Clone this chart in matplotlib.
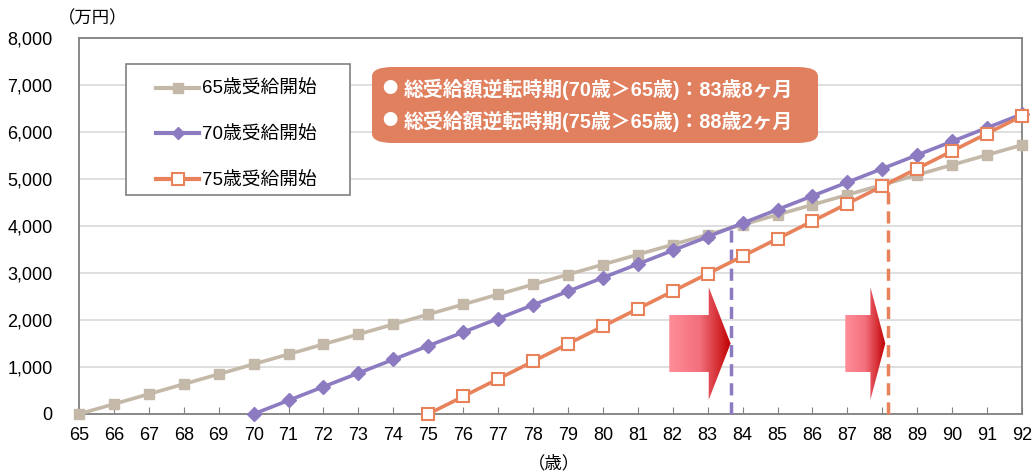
import numpy as np
import matplotlib
matplotlib.use("Agg")
import matplotlib.pyplot as plt
from matplotlib.patches import Polygon, Rectangle, FancyBboxPatch
from matplotlib.lines import Line2D
from matplotlib.colors import LinearSegmentedColormap

plt.rcParams['font.family'] = ['Liberation Sans', 'Noto Sans CJK JP']

# cumulative pension received (万円) by age
ages = list(range(65, 93))
start65 = [0, 212, 424, 636, 848, 1060, 1272, 1484, 1696, 1908, 2120, 2332, 2544, 2756,
           2968, 3180, 3392, 3604, 3816, 4028, 4240, 4452, 4664, 4876, 5088, 5300, 5512, 5724]
ages70 = list(range(70, 93))
start70 = [0, 290, 580, 870, 1160, 1450, 1740, 2030, 2320, 2610, 2900, 3190, 3480, 3770,
           4060, 4350, 4640, 4930, 5220, 5510, 5800, 6090, 6380]
ages75 = list(range(75, 93))
start75 = [0, 373, 746, 1119, 1492, 1865, 2238, 2611, 2984, 3357, 3730, 4103, 4476,
           4849, 5222, 5595, 5968, 6341]

series_labels = ['65歳受給開始', '70歳受給開始', '75歳受給開始']
# break-even ages: 83歳8ヶ月, 88歳2ヶ月
cross70 = 83 + 8 / 12
cross75 = 88 + 2 / 12
notes = ['総受給額逆転時期(70歳＞65歳)：83歳8ヶ月',
         '総受給額逆転時期(75歳＞65歳)：88歳2ヶ月']

c65 = '#C4B8A9'
c70 = '#8D7BC2'
c75 = '#E8825A'
gray = '#808080'

fig = plt.figure(figsize=(10.35, 4.75), dpi=100)
ax = fig.add_axes([79 / 1035, 61 / 475, 943 / 1035, 376 / 475])

ax.set_xlim(65, 92)
ax.set_ylim(0, 8000)
ax.set_xticks(ages)
ax.set_yticks(range(0, 8001, 1000))
ax.set_yticklabels([f'{v:,}' for v in range(0, 8001, 1000)])
ax.grid(axis='y', color='#D9D9D9', lw=1.2, zorder=0)
ax.set_axisbelow(True)
for s in ax.spines.values():
    s.set_color(gray)
    s.set_linewidth(1.3)
ax.tick_params(axis='x', direction='in', length=5, color=gray, pad=9, labelsize=13)
ax.tick_params(axis='y', length=0, pad=19, labelsize=13)

ax.plot(ages, start65, color=c65, lw=2.6, marker='s', ms=7.5, zorder=4, clip_on=False)
ax.plot(ages70, start70, color=c70, lw=2.6, marker='D', ms=7, zorder=5, clip_on=False)
ax.plot(ages75, start75, color=c75, lw=2.6, marker='s', ms=8, mfc='white',
        mec=c75, mew=1.5, zorder=6, clip_on=False)

# dashed lines at the break-even ages
for xc, col in [(cross70, c70), (cross75, c75)]:
    top = np.interp(xc, ages, start65)
    ax.plot([xc, xc], [0, top], color=col, lw=2.5, ls=(0, (3.5, 2)), zorder=3, clip_on=False)

# gradient block arrows pointing at the break-even ages
cmap = LinearSegmentedColormap.from_list('arrow', ['#FF8E99', '#F26F7C', '#C00000'])
grad = np.linspace(0, 1, 256).reshape(1, -1)


def block_arrow(x0, x1, xtip):
    verts = [(x0, 894), (x1, 894), (x1, 300), (xtip, 1500),
             (x1, 2700), (x1, 2106), (x0, 2106)]
    poly = Polygon(verts, closed=True, fc='none', ec='none')
    ax.add_patch(poly)
    im = ax.imshow(grad, extent=[x0, xtip, 300, 2700], cmap=cmap, aspect='auto',
                   interpolation='bilinear', zorder=2)
    im.set_clip_path(poly)


block_arrow(81.9, 83.03, cross70 - 0.01)
block_arrow(86.94, 87.66, cross75 - 0.08)
ax.set_xlim(65, 92)
ax.set_ylim(0, 8000)

# legend in a plain box
ax.add_patch(Rectangle((126 / 1035, 1 - 195 / 475), 224 / 1035, 131 / 475,
                       transform=fig.transFigure, fc='white', ec=gray, lw=1.2,
                       zorder=7, clip_on=False))
handles = [Line2D([], [], color=c65, lw=3, marker='s', ms=7.5),
           Line2D([], [], color=c70, lw=3, marker='D', ms=6),
           Line2D([], [], color=c75, lw=3, marker='s', ms=8, mfc='white', mec=c75, mew=1.5)]
leg = ax.legend(handles, series_labels, loc='upper left', frameon=False,
                bbox_to_anchor=(156 / 1035, 1 - 81 / 475), bbox_transform=fig.transFigure,
                borderaxespad=0, borderpad=0, fontsize=13.5, labelspacing=1.52,
                handlelength=2.3, handletextpad=0.15)
leg.set_zorder(8)

# note box
box = FancyBboxPatch((372 / 1035, 1 - 143 / 475), 446 / 1035, 76 / 475,
                     boxstyle='round,pad=0,rounding_size=0.02', transform=fig.transFigure,
                     fc='#E0805E', ec='none', zorder=9)
fig.patches.append(box)
for i, t in enumerate(notes):
    y = 1 - (89 + 32 * i) / 475
    fig.text(382 / 1035, y, '●', color='white', fontsize=11, family='Noto Sans CJK JP',
             va='center', ha='left', zorder=10)
    fig.text(404 / 1035, y, t, color='white', fontsize=14.3,
             fontweight='bold', va='center', ha='left', zorder=10)

fig.text(58 / 1035, 1 - 18 / 475, '（万円）', fontsize=12.5, va='center', ha='left')
fig.text(528 / 1035, 1 - 463 / 475, '（歳）', fontsize=12.5, va='center', ha='left')

fig.savefig('out.png', dpi=100)
